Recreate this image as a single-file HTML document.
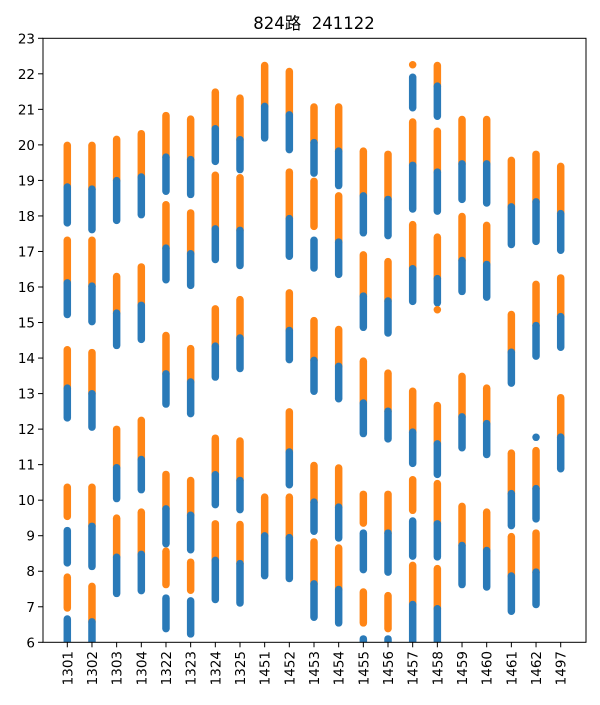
<!DOCTYPE html>
<html><head><meta charset="utf-8"><style>
html,body{margin:0;padding:0;background:#fff;}
svg text{font-family:"DejaVu Sans","Liberation Sans","Noto Sans CJK SC",sans-serif;}
</style></head><body>
<svg id="chart" width="600" height="700" xmlns="http://www.w3.org/2000/svg">
<defs><clipPath id="pc"><rect x="43" y="38.3" width="543" height="604"/></clipPath></defs>
<rect width="600" height="700" fill="#fff"/>
<text x="314" y="29" font-size="16.5" text-anchor="middle" style="font-family:'DejaVu Sans','Noto Sans CJK SC',sans-serif;white-space:pre">824路  241122</text>
<g id="marks" clip-path="url(#pc)"></g>
<g id="axes"></g>
<rect x="43" y="38.3" width="543" height="604" fill="none" stroke="#000" stroke-width="1"/>
</svg>
<script>
const categories = ["1301","1302","1303","1304","1322","1323","1324","1325","1451","1452","1453","1454","1455","1456","1457","1458","1459","1460","1461","1462","1497"];
const yTicks = [6,7,8,9,10,11,12,13,14,15,16,17,18,19,20,21,22,23];
// trips per category: [blueStart, blueEnd, orangeStart, orangeEnd] in hours
const trips = [
 [[17.7,18.92,18.92,20.09],[15.12,16.22,16.22,17.42],[12.21,13.26,13.26,14.34],[8.13,9.25,9.44,10.47],[5.8,6.76,6.86,7.94]],
 [[17.51,18.86,18.86,20.09],[14.92,16.13,16.13,17.42],[11.95,13.1,13.1,14.26],[8.03,9.37,9.37,10.47],[5.8,6.68,6.68,7.68]],
 [[17.77,19.1,19.1,20.26],[14.25,15.37,15.37,16.4],[9.94,11.02,11.02,12.1],[7.27,8.5,8.5,9.6]],
 [[17.93,19.2,19.2,20.42],[14.42,15.59,15.59,16.67],[10.19,11.25,11.25,12.35],[7.35,8.58,8.58,9.77]],
 [[18.59,19.76,19.76,20.93],[16.1,17.2,17.2,18.42],[12.6,13.66,13.66,14.74],[8.67,9.86,9.86,10.83],[6.28,7.35,7.52,8.67]],
 [[18.5,19.69,19.69,20.83],[15.94,17.04,17.04,18.19],[12.33,13.43,13.43,14.37],[8.5,9.68,9.68,10.66],[6.13,7.27,7.36,8.36]],
 [[19.43,20.56,20.56,21.59],[16.67,17.74,17.74,19.25],[13.36,14.44,14.44,15.49],[9.77,10.82,10.82,11.85],[7.1,8.41,8.41,9.44]],
 [[19.2,20.25,20.25,21.42],[16.5,17.7,17.7,19.18],[13.6,14.67,14.67,15.75],[9.63,10.66,10.66,11.77],[7.0,8.32,8.32,9.42]],
 [[20.09,21.19,21.19,22.34],[7.77,9.1,9.1,10.19]],
 [[19.76,20.95,20.95,22.17],[16.76,18.03,18.03,19.34],[13.85,14.88,14.88,15.94],[10.33,11.46,11.46,12.59],[7.69,9.05,9.05,10.19]],
 [[19.1,20.17,20.17,21.17],[16.43,17.42,17.6,19.08],[12.96,14.04,14.04,15.16],[9.02,10.05,10.05,11.08],[6.6,7.75,7.75,8.93]],
 [[18.75,19.93,19.93,21.17],[16.25,17.37,17.37,18.67],[12.75,13.87,13.87,14.91],[8.83,9.91,9.91,11.01],[6.44,7.59,7.59,8.76]],
 [[17.42,18.67,18.67,19.93],[14.76,15.85,15.85,17.01],[11.77,12.84,12.84,14.02],[7.94,9.18,9.25,10.27],[5.8,6.2,6.44,7.52]],
 [[17.34,18.57,18.57,19.84],[14.6,15.71,15.71,16.82],[11.62,12.61,12.61,13.68],[7.87,9.18,9.18,10.27],[5.8,6.2,6.28,7.42]],
 [[20.94,22.01,22.16,22.36],[18.09,19.53,19.53,20.75],[15.49,16.62,16.62,17.86],[10.93,12.02,12.02,13.17],[8.32,9.52,9.61,10.68],[5.8,7.17,7.17,8.27]],
 [[20.7,21.76,21.76,22.34],[18.03,19.34,19.34,20.49],[15.45,16.34,16.34,17.51],[10.62,11.69,11.69,12.77],[8.3,9.44,9.44,10.57],[5.8,7.05,7.05,8.18]],
 [[18.36,19.57,19.57,20.82],[15.77,16.85,16.85,18.09],[11.37,12.45,12.45,13.59],[7.52,8.83,8.83,9.93]],
 [[18.26,19.57,19.57,20.82],[15.61,16.74,16.74,17.84],[11.18,12.26,12.26,13.26],[7.45,8.69,8.69,9.77]],
 [[17.09,18.36,18.36,19.67],[13.19,14.27,14.27,15.33],[9.18,10.29,10.29,11.43],[6.77,7.97,7.97,9.08]],
 [[17.18,18.5,18.5,19.84],[13.95,15.02,15.02,16.18],[9.37,10.43,10.43,11.5],[6.96,8.08,8.08,9.18]],
 [[16.93,18.17,18.17,19.5],[14.2,15.27,15.27,16.36],[10.78,11.88,11.88,12.99]]
];
// isolated points: category index, value, colour series
const dotCat = [19, 15];
const dotVal = [11.77, 15.36];
const dotSeries = ["blue", "orange"];

const NS = "http://www.w3.org/2000/svg";
const X0 = 67.3, DX = 24.67, YB = 642.3, PPU = 35.53;
function xs(i){ return X0 + i*DX; }
function ys(v){ return YB - (v-6)*PPU; }
const COL = {blue:"#2a7ab8", orange:"#ff8516"};
const W = 7.5;
const marks = document.getElementById("marks");
const axes = document.getElementById("axes");

function seg(i, a, b, series, extendDown){
  const r = document.createElementNS(NS, "rect");
  const y1 = ys(b), y2 = ys(a) + (extendDown ? W : 0);
  r.setAttribute("x", xs(i)-W/2);
  r.setAttribute("y", y1);
  r.setAttribute("width", W);
  r.setAttribute("height", Math.max(W, y2-y1));
  r.setAttribute("rx", W/2);
  r.setAttribute("fill", COL[series]);
  
  
  marks.appendChild(r);
}
trips.forEach((list, i) => {
  list.forEach(t => {
    seg(i, t[2], t[3], "orange", Math.abs(t[2]-t[1]) < 0.05);
    seg(i, t[0], t[1], "blue", false);
  });
});
dotCat.forEach((c, k) => {
  const d = document.createElementNS(NS, "circle");
  d.setAttribute("cx", xs(c));
  d.setAttribute("cy", ys(dotVal[k]));
  d.setAttribute("r", W/2);
  d.setAttribute("fill", COL[dotSeries[k]]);
  
  
  marks.appendChild(d);
});

yTicks.forEach(v => {
  const l = document.createElementNS(NS, "line");
  l.setAttribute("x1", 38); l.setAttribute("x2", 43);
  l.setAttribute("y1", ys(v)); l.setAttribute("y2", ys(v));
  l.setAttribute("stroke", "#000");
  
  
  axes.appendChild(l);
  const t = document.createElementNS(NS, "text");
  t.setAttribute("x", 35); t.setAttribute("y", ys(v)+5);
  t.setAttribute("text-anchor", "end");
  t.setAttribute("font-size", "13.5");
  t.textContent = v;
  
  
  axes.appendChild(t);
});
categories.forEach((c, i) => {
  const l = document.createElementNS(NS, "line");
  l.setAttribute("x1", xs(i)); l.setAttribute("x2", xs(i));
  l.setAttribute("y1", 642.3); l.setAttribute("y2", 647.3);
  l.setAttribute("stroke", "#000");
  
  
  axes.appendChild(l);
  const t = document.createElementNS(NS, "text");
  t.setAttribute("transform", "translate(" + (xs(i)+5) + ",651) rotate(-90)");
  t.setAttribute("text-anchor", "end");
  t.setAttribute("font-size", "13.5");
  t.textContent = c;
  
  
  axes.appendChild(t);
});
</script>
</body></html>
